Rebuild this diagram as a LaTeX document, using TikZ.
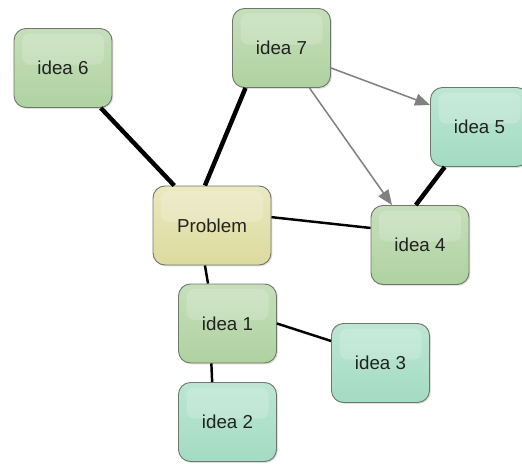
\documentclass[tikz,border=0pt]{standalone}
\usepackage{fontspec}
\setmainfont{Liberation Sans}
\usetikzlibrary{arrows.meta,shadows}
\definecolor{greentop}{HTML}{C6DFBB}
\definecolor{greenbot}{HTML}{AFD2A0}
\definecolor{tealtop}{HTML}{BDE6D4}
\definecolor{tealbot}{HTML}{A3DBC3}
\definecolor{probtop}{HTML}{EAE9C0}
\definecolor{probbot}{HTML}{DCDA9E}
\definecolor{boxline}{HTML}{6E776B}
\definecolor{txt}{HTML}{222222}
\begin{document}
\begin{tikzpicture}[x=0.3mm, y=-0.3mm,
    box/.style={draw=boxline, line width=0.8pt, rounded corners=3.6mm,
        minimum width=29.4mm, minimum height=23.7mm, inner sep=1pt,
        text=txt, font=\fontsize{16}{19}\selectfont,
        drop shadow={opacity=0.25, shadow xshift=0.4mm, shadow yshift=-0.4mm},
        path picture={\fill[white, opacity=0.18, rounded corners=2.4mm]
            ([shift={(2.4mm,-1.5mm)}]path picture bounding box.north west)
            rectangle ([shift={(-2.4mm,1mm)}]path picture bounding box.east);}},
    greenbox/.style={box, top color=greentop, bottom color=greenbot},
    tealbox/.style={box, top color=tealtop, bottom color=tealbot},
    probbox/.style={box, top color=probtop, bottom color=probbot, minimum width=35.4mm},
    strong/.style={line width=3.8pt},
    link/.style={line width=2.1pt},
    arr/.style={draw=gray, line width=1.3pt, -{Triangle[length=4.5mm, width=3.6mm]}}]
    \useasboundingbox (0,0) rectangle (522,463);
    \node[probbox]  (problem) at (212,225.5) {Problem};
    \node[greenbox] (idea6) at (63,68) {idea 6};
    \node[greenbox] (idea7) at (281.5,48) {idea 7};
    \node[tealbox]  (idea5) at (479.5,127) {idea 5};
    \node[greenbox] (idea4) at (420,245) {idea 4};
    \node[greenbox] (idea1) at (227.5,323.5) {idea 1};
    \node[tealbox]  (idea3) at (380.5,363) {idea 3};
    \node[tealbox]  (idea2) at (227.5,422) {idea 2};
    % links
    \draw[strong] (idea6) -- (problem);
    \draw[strong] (idea7.228) -- (problem.100);
    \draw[strong] (idea5.229) -- (idea4.96);
    \draw[link] (problem.8) -- (idea4.161);
    \draw[link] (problem.260) -- (idea1.116);
    \draw[link] (idea1.0) -- (idea3.156);
    \draw[link] (idea1.248) -- (idea2.111);
    \draw[arr] (idea7.338) -- (idea5.156);
    \draw[arr] (idea7.305) -- (idea4.125);
\end{tikzpicture}
\end{document}
